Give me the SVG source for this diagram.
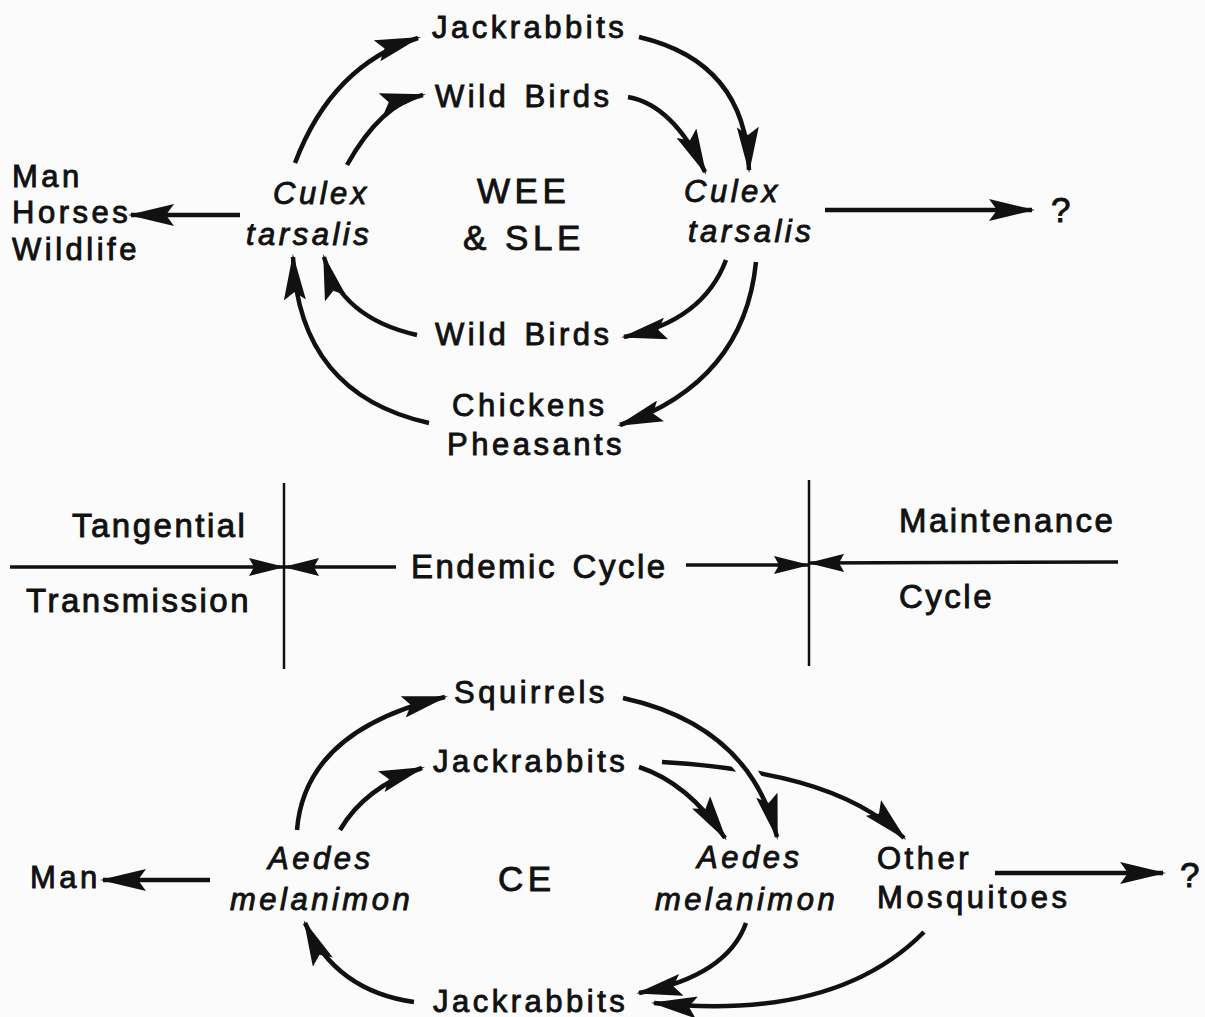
<svg xmlns="http://www.w3.org/2000/svg" width="1205" height="1017" viewBox="0 0 1205 1017">
<defs>
<marker id="ah" viewBox="0 0 46 22" refX="43" refY="11" markerWidth="46" markerHeight="22" markerUnits="userSpaceOnUse" orient="auto"><path d="M0,0 L46,11 L0,22 L8,11 z" fill="#111"/></marker>
<marker id="ahm" viewBox="0 0 36 18" refX="35" refY="9" markerWidth="36" markerHeight="18" markerUnits="userSpaceOnUse" orient="auto"><path d="M0,0 L36,9 L0,18 L5,9 z" fill="#111"/></marker>
<style>
text{font-family:"Liberation Sans",Arial,sans-serif;fill:#111;stroke:#111;stroke-width:0.9}
.t{font-size:31px;letter-spacing:3.5px;word-spacing:3px}
.i{font-size:31px;letter-spacing:3.5px;font-style:italic}
.big{font-size:35px;letter-spacing:4.5px}
.q{font-size:35px}
.m{font-size:33px;letter-spacing:2.5px;word-spacing:4px}
.c{fill:none;stroke:#111;stroke-width:4.5;marker-end:url(#ah)}
.halo{fill:none;stroke:#fbfbfb;stroke-width:18}
.lm{fill:none;stroke:#111;stroke-width:3.5;marker-end:url(#ahm)}
.v{stroke:#111;stroke-width:2.5}
</style>
</defs>
<rect width="1205" height="1017" fill="#fbfbfb"/>

<g id="connectors">
<!-- top cycle -->
<path class="c" d="M295,163 Q332,65 418,38"/>
<path class="c" d="M347,165 Q381,104 423,95"/>
<path class="c" d="M639,37 Q746,62 749,170"/>
<path class="c" d="M628,97 Q673,105 705,172"/>
<path class="c" d="M726,260 Q703,321 624,337"/>
<path class="c" d="M756,262 Q744,382 620,425"/>
<path class="c" d="M417,335 Q341,318 324,257"/>
<path class="c" d="M429,423 Q299,394 293,257"/>
<path class="c" d="M240,215 L131,215"/>
<path class="c" d="M825,210 L1032,210"/>
<!-- middle -->
<line class="v" x1="284" y1="483" x2="284" y2="669"/>
<line class="v" x1="809" y1="480" x2="809" y2="666"/>
<path class="lm" d="M10,567 L284,567"/>
<path class="lm" d="M396,567 L284,567"/>
<path class="lm" d="M686,565 L809,565"/>
<path class="lm" d="M1118,562 L809,563"/>
<!-- bottom cycle -->
<path class="c" d="M297,830 Q305,730 445,697"/>
<path class="c" d="M340,830 Q365,787 422,768"/>
<path class="c" d="M639,767 Q688,783 725,838"/>
<path class="c" d="M662,762 C760,768 850,785 904,838"/>
<path class="halo" d="M623,698 Q750,726 777,837"/>
<path class="c" d="M623,698 Q750,726 777,837"/>
<path class="c" d="M746,923 Q727,976 639,993"/>
<path class="c" d="M924,932 Q835,1022 654,1003"/>
<path class="c" d="M414,1002 Q336,991 305,923"/>
<path class="c" d="M210,880 L103,880"/>
<path class="c" d="M995,873 L1163,873"/>
</g>

<g id="node-jackrabbits-top"><text class="t" x="432" y="38">Jackrabbits</text></g>
<g id="node-wildbirds-top"><text class="t" x="435" y="107">Wild Birds</text></g>
<g id="node-man-horses-wildlife">
<text class="t" x="12" y="187">Man</text>
<text class="t" x="12" y="223">Horses</text>
<text class="t" x="12" y="260">Wildlife</text>
</g>
<g id="node-culex-left">
<text class="i" x="273" y="204">Culex</text>
<text class="i" x="246" y="245">tarsalis</text>
</g>
<g id="node-wee-sle">
<text class="big" x="477" y="203">WEE</text>
<text class="big" x="463" y="250">&amp; SLE</text>
</g>
<g id="node-culex-right">
<text class="i" x="684" y="202">Culex</text>
<text class="i" x="688" y="242">tarsalis</text>
</g>
<g id="node-question-top"><text class="q" x="1051" y="222">?</text></g>
<g id="node-wildbirds-bottom"><text class="t" x="435" y="345">Wild Birds</text></g>
<g id="node-chickens-pheasants">
<text class="t" x="452" y="416">Chickens</text>
<text class="t" x="447" y="455">Pheasants</text>
</g>

<g id="label-tangential">
<text class="m" x="72" y="537">Tangential</text>
<text class="m" x="26" y="612">Transmission</text>
</g>
<g id="label-endemic"><text class="m" x="411" y="578">Endemic Cycle</text></g>
<g id="label-maintenance">
<text class="m" x="899" y="532">Maintenance</text>
<text class="m" x="899" y="608">Cycle</text>
</g>

<g id="node-squirrels"><text class="t" x="454" y="703">Squirrels</text></g>
<g id="node-jackrabbits-mid"><text class="t" x="433" y="772">Jackrabbits</text></g>
<g id="node-man-bottom"><text class="t" x="30" y="888">Man</text></g>
<g id="node-aedes-left">
<text class="i" x="268" y="869">Aedes</text>
<text class="i" x="230" y="910">melanimon</text>
</g>
<g id="node-ce"><text class="big" x="498" y="891">CE</text></g>
<g id="node-aedes-right">
<text class="i" x="697" y="868">Aedes</text>
<text class="i" x="655" y="910">melanimon</text>
</g>
<g id="node-other-mosquitoes">
<text class="t" x="877" y="869">Other</text>
<text class="t" x="877" y="908">Mosquitoes</text>
</g>
<g id="node-question-bottom"><text class="q" x="1180" y="887">?</text></g>
<g id="node-jackrabbits-bottom"><text class="t" x="433" y="1012">Jackrabbits</text></g>
</svg>
